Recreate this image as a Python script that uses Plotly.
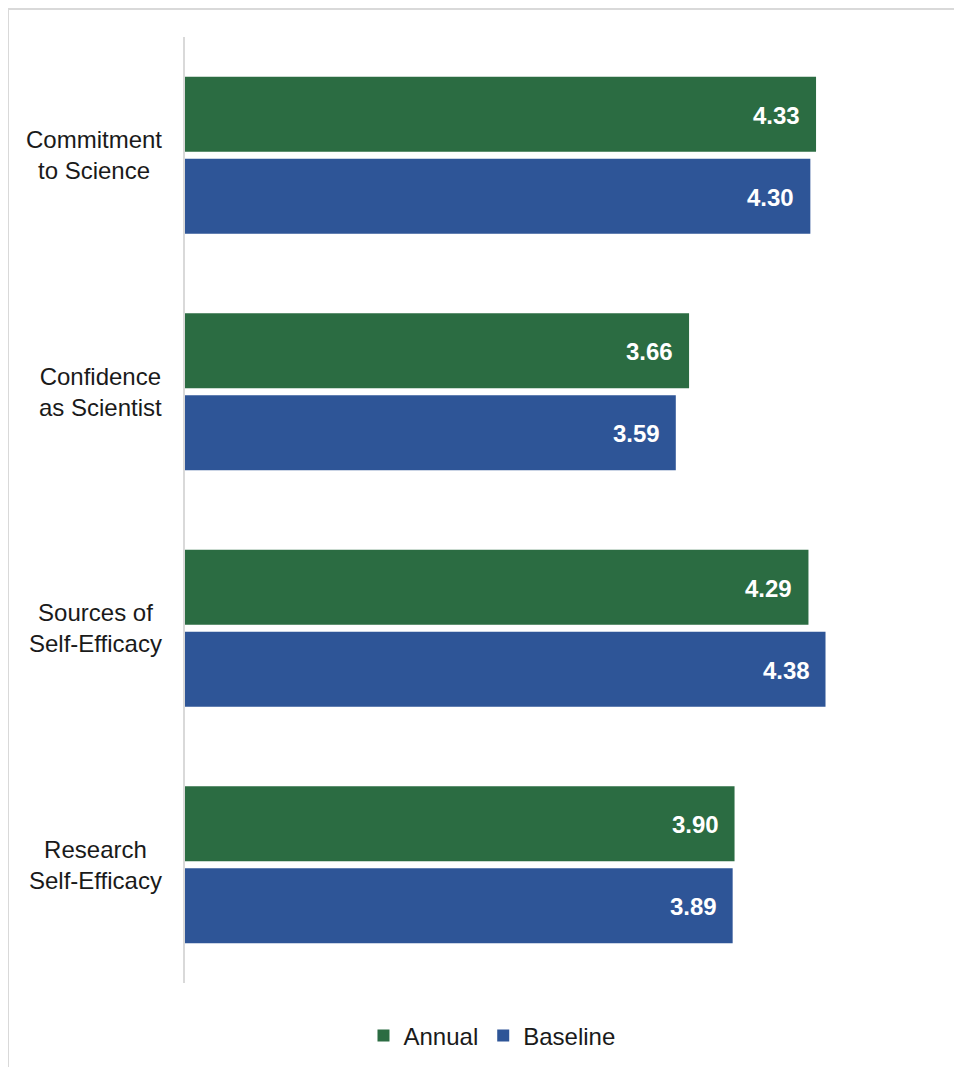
import plotly.graph_objects as go

categories = ["Commitment<br>to Science", "Confidence<br>as Scientist", "Sources of<br>Self-Efficacy", "Research<br>Self-Efficacy"]
annual = [4.33, 3.66, 4.29, 3.90]
baseline = [4.30, 3.59, 4.38, 3.89]
series_names = ["Annual", "Baseline"]
colors = ["#2B6C42", "#2E5597"]

FONT = "Liberation Sans, Arial, sans-serif"

fig = go.Figure()
for name, vals, col in zip(series_names, [annual, baseline], colors):
    fig.add_trace(go.Bar(
        y=categories, x=vals, base=0, orientation="h", name=name,
        marker=dict(color=col, line=dict(width=0)),
        hoverinfo="skip",
    ))

annotations = []
for vals, shift in zip([annual, baseline], [41, -41]):
    for c, v in zip(categories, vals):
        annotations.append(dict(
            x=v, y=c, xref="x", yref="y", text=f"<b>{v:.2f}</b>",
            showarrow=False, xanchor="right", yanchor="middle",
            xshift=-14, yshift=shift - 1,
            font=dict(family=FONT, size=24, color="white"),
        ))
for c in categories:
    annotations.append(dict(
        x=0, y=c, xref="paper", yref="y", text=c, showarrow=False,
        xanchor="right", yanchor="middle", align="center", xshift=-21,
        font=dict(family=FONT, size=24, color="#1a1a1a"),
    ))

fig.update_layout(
    width=962, height=1067,
    margin=dict(l=177, r=27, t=29, b=92),
    paper_bgcolor="white", plot_bgcolor="white",
    barmode="group", bargap=0.3066, bargroupgap=0.085,
    font=dict(family=FONT, size=24, color="#1a1a1a"),
    xaxis=dict(range=[1, 5], visible=False, fixedrange=True),
    yaxis=dict(autorange="reversed", showticklabels=False, showline=True,
               linecolor="#D9D9D9", linewidth=2, showgrid=False, zeroline=False,
               ticks=""),
    showlegend=True,
    legend=dict(orientation="h", x=0.405, xanchor="center", y=-0.056, yanchor="middle",
                font=dict(family=FONT, size=24, color="#1a1a1a"),
                itemclick=False, itemdoubleclick=False),
    annotations=annotations,
    shapes=[dict(type="rect", xref="paper", yref="paper",
                 x0=-0.2335, x1=1.2, y0=-0.3, y1=1.0296,
                 line=dict(color="#D9D9D9", width=2), fillcolor="rgba(0,0,0,0)", layer="below")],
)

fig.write_html("out.html")
